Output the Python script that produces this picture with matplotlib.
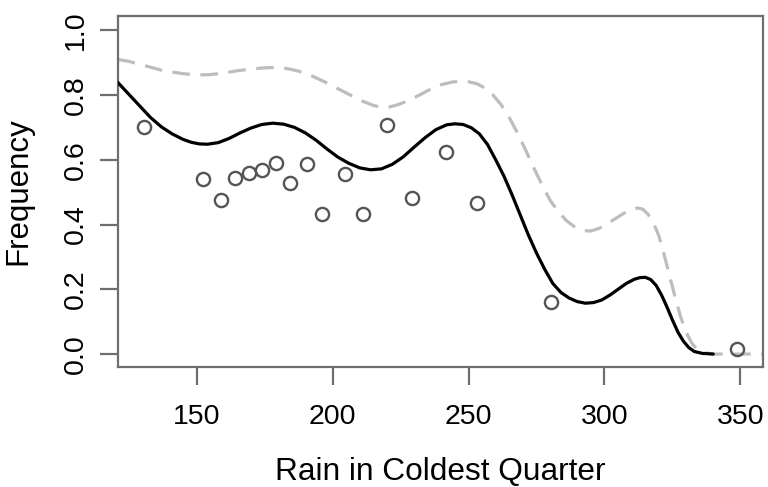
import matplotlib
matplotlib.use("Agg")
import matplotlib.pyplot as plt

plt.rcParams['font.family'] = ['Liberation Sans', 'DejaVu Sans']

# observed points
obs_x = [130.8, 152.3, 159.0, 164.2, 169.3, 174.2, 179.2, 184.4, 190.6, 196.3,
         204.4, 211.3, 220.1, 229.1, 241.6, 253.2, 280.3, 348.7]
obs_y = [0.700, 0.542, 0.477, 0.543, 0.560, 0.569, 0.591, 0.528, 0.586, 0.431,
         0.556, 0.431, 0.708, 0.482, 0.623, 0.466, 0.161, 0.016]

# fitted curve (solid)
fit_x = [121, 125, 129, 133, 137, 141, 145, 148, 151, 154, 158, 162, 166, 170, 174,
         178, 182, 186, 190, 194, 198, 202, 206, 210, 214, 218, 222, 226, 230, 234,
         238, 242, 245, 248, 251, 254, 257, 260, 263, 266, 269, 272, 275, 278, 281,
         284, 287, 290, 293, 296, 299, 302, 305, 308, 311, 313, 315, 317, 319, 321,
         323, 325, 327, 329, 331, 333, 336, 340]
fit_y = [0.839, 0.803, 0.767, 0.731, 0.702, 0.680, 0.663, 0.654, 0.649, 0.648, 0.653,
         0.666, 0.683, 0.698, 0.709, 0.713, 0.710, 0.700, 0.683, 0.660, 0.633, 0.608,
         0.589, 0.575, 0.569, 0.572, 0.586, 0.609, 0.639, 0.668, 0.693, 0.708, 0.711,
         0.709, 0.699, 0.680, 0.647, 0.600, 0.550, 0.492, 0.430, 0.368, 0.312, 0.262,
         0.218, 0.190, 0.173, 0.162, 0.157, 0.159, 0.167, 0.182, 0.200, 0.218, 0.231,
         0.236, 0.237, 0.230, 0.212, 0.182, 0.145, 0.105, 0.068, 0.040, 0.020, 0.008,
         0.002, 0.0]

# upper band (dashed)
up_x = [121, 125, 129, 133, 137, 141, 145, 150, 155, 160, 165, 170, 175, 179, 183,
        187, 191, 195, 199, 203, 207, 211, 215, 218, 221, 224, 228, 232, 236, 240,
        244, 247, 250, 253, 256, 259, 262, 265, 268, 271, 274, 277, 280, 283, 286,
        289, 292, 295, 298, 301, 304, 307, 310, 312, 314, 316, 318, 320, 322, 324,
        326, 328, 330, 332, 334, 337, 340, 350, 358]
up_y = [0.910, 0.904, 0.895, 0.886, 0.877, 0.871, 0.866, 0.862, 0.863, 0.868, 0.875,
        0.880, 0.884, 0.885, 0.882, 0.875, 0.864, 0.849, 0.833, 0.815, 0.798, 0.781,
        0.768, 0.762, 0.763, 0.770, 0.783, 0.800, 0.818, 0.832, 0.840, 0.842, 0.841,
        0.835, 0.822, 0.800, 0.770, 0.730, 0.683, 0.630, 0.575, 0.523, 0.475, 0.440,
        0.412, 0.393, 0.381, 0.380, 0.388, 0.402, 0.418, 0.434, 0.447, 0.451, 0.448,
        0.432, 0.405, 0.365, 0.305, 0.240, 0.175, 0.115, 0.068, 0.035, 0.015, 0.004,
        0.0, 0.0, 0.0]

x_ticks = [150, 200, 250, 300, 350]
y_ticks = [0.0, 0.2, 0.4, 0.6, 0.8, 1.0]
y_tick_labels = ["0.0", "0.2", "0.4", "0.6", "0.8", "1.0"]

fig = plt.figure(figsize=(7.68, 4.87), dpi=100)
ax = fig.add_axes([118/768, 1 - 367/487, (763-118)/768, (367-16)/487])

ax.plot(up_x, up_y, color='#bdbdbd', lw=2.3, dashes=(5.5, 3.3), zorder=2,
        solid_joinstyle='round', dash_joinstyle='round')
ax.plot(fit_x, fit_y, color='black', lw=2.3, zorder=3,
        solid_joinstyle='round', solid_capstyle='round')
ax.plot(obs_x, obs_y, linestyle='none', marker='o', markersize=9.5,
        markerfacecolor='none', markeredgecolor='#555555', markeredgewidth=1.7, zorder=4)

ax.set_xlim(121.1, 358.3)
ax.set_ylim(-0.04, 1.044)

ax.set_xticks(x_ticks)
ax.set_xticklabels([str(t) for t in x_ticks])
ax.set_yticks(y_ticks)
ax.set_yticklabels(y_tick_labels, rotation=90, va='center')

for s in ax.spines.values():
    s.set_color('#6e6e6e')
    s.set_linewidth(1.6)

ax.tick_params(axis='both', direction='out', length=13, width=1.6, color='#6e6e6e',
               labelsize=20.5, labelcolor='black')
ax.tick_params(axis='x', pad=14)
ax.tick_params(axis='y', pad=8)

ax.set_xlabel("Rain in Coldest Quarter", fontsize=22.8)
ax.set_ylabel("Frequency", fontsize=22.5)
ax.xaxis.label.set_va('center')
ax.yaxis.label.set_va('center')
ax.xaxis.set_label_coords(0.5, (367 - 472) / 351)
ax.yaxis.set_label_coords((18 - 118) / 645, 0.5)

fig.savefig("out.png", dpi=100)
